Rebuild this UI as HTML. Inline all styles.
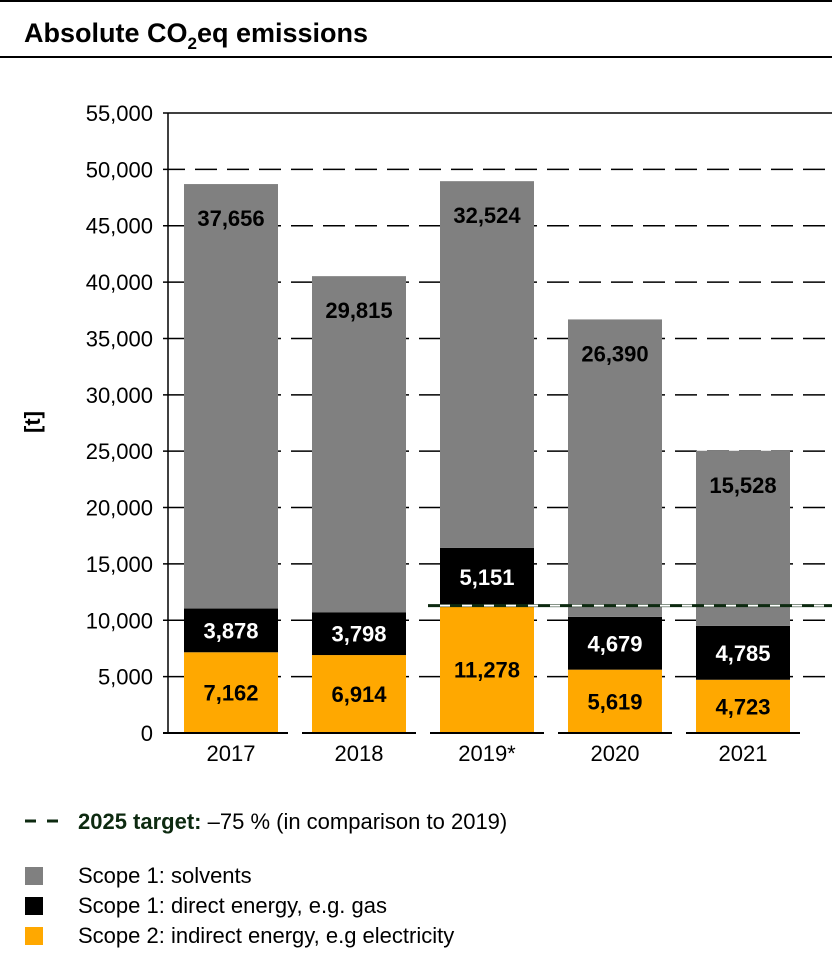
<!DOCTYPE html>
<html><head><meta charset="utf-8"><style>
body{margin:0;background:#fff;font-family:"Liberation Sans",Arial,sans-serif}
svg text{font-family:"Liberation Sans",Arial,sans-serif}
</style></head><body>
<svg id="c" width="832" height="970">
<rect x="0" y="0" width="832" height="2" fill="#000"/>
<text x="24" y="42" font-size="27" font-weight="bold">Absolute CO<tspan font-size="17" dy="7">2</tspan><tspan dy="-7">eq emissions</tspan></text>
<rect x="0" y="56" width="832" height="2" fill="#000"/>
<text transform="translate(40,422) rotate(-90)" font-size="22" font-weight="bold" text-anchor="middle">[t]</text>
<g id="grid"></g><g id="bars"></g><g id="labels"></g><g id="axis"></g>
<g>
<line x1="25" y1="821" x2="62" y2="821" stroke="#0d2a10" stroke-width="3" stroke-dasharray="11 11"/>
<text x="78" y="829" font-size="22"><tspan font-weight="bold" fill="#0d2a10">2025 target:</tspan> –75 % (in comparison to 2019)</text>
<rect x="25" y="867" width="18" height="18" fill="#808080"/>
<text x="78" y="883" font-size="22">Scope 1: solvents</text>
<rect x="25" y="897" width="18" height="18" fill="#000"/>
<text x="78" y="913" font-size="22">Scope 1: direct energy, e.g. gas</text>
<rect x="25" y="927" width="18" height="18" fill="#FFA800"/>
<text x="78" y="943" font-size="22">Scope 2: indirect energy, e.g electricity</text>
</g>
</svg>
<script>
const categories=["2017","2018","2019*","2020","2021"];
const scope2=[7162,6914,11278,5619,4723];
const scope1Direct=[3878,3798,5151,4679,4785];
const scope1Solvents=[37656,29815,32524,26390,15528];
const yTicks=[0,5000,10000,15000,20000,25000,30000,35000,40000,45000,50000,55000];
const target=[11300];
const NS="http://www.w3.org/2000/svg";
const y=v=>733-v*620/55000;
const x=i=>184+i*128;
const BW=94;
function mk(p,t,a){const e=document.createElementNS(NS,t);for(const k in a)e.setAttribute(k,a[k]);document.getElementById(p).appendChild(e);return e;}
const fmt=v=>v.toLocaleString("en-US");
yTicks.forEach((t,i)=>{
 const l=mk("grid","line",{x1:163,x2:832,y1:y(t),y2:y(t),stroke:"#000","stroke-width":1.5});
 if(t>0&&t<55000)l.setAttribute("stroke-dasharray","22 10");
 if(t===0)l.setAttribute("stroke","none");
 
 
 const tx=mk("axis","text",{x:153,y:y(t)+8,"font-size":22,"text-anchor":"end"});
 tx.textContent=fmt(t);
 
 
});
const ax=mk("axis","line",{x1:168,x2:168,y1:y(55000),y2:733,stroke:"#000","stroke-width":1.5});


categories.forEach((c,i)=>{
 const bl=mk("axis","line",{x1:i===0?163:x(i)-10,x2:x(i)+BW+10,y1:733,y2:733,stroke:"#000","stroke-width":2});
 
 
 const segs=[[scope2[i],"#FFA800","bar-scope2","#000"],[scope1Direct[i],"#000","bar-direct","#fff"],[scope1Solvents[i],"#808080","bar-solvents","#000"]];
 let base=0;
 segs.forEach((s,k)=>{
  const r=mk("bars","rect",{x:x(i),y:y(base+s[0]),width:BW,height:y(base)-y(base+s[0]),fill:s[1]});
  
  
  const ly=k===2?y(base+s[0])+42:(y(base)+y(base+s[0]))/2+8;
  const t=mk("labels","text",{x:x(i)+BW/2,y:ly,"font-size":22,"font-weight":"bold","text-anchor":"middle",fill:s[3]});
  t.textContent=fmt(s[0]);
  
  
  base+=s[0];
 });
 const xl=mk("axis","text",{x:x(i)+BW/2,y:761,"font-size":22,"text-anchor":"middle"});
 xl.textContent=c;
 
 
});
const tg=mk("labels","line",{x1:428,x2:832,y1:y(target[0]),y2:y(target[0]),stroke:"#0d2a10","stroke-width":3});


const tg2=mk("labels","line",{x1:440,x2:832,y1:y(target[0]),y2:y(target[0]),stroke:"#fff","stroke-width":2,"stroke-dasharray":"10 12"});


</script>
</body></html>
